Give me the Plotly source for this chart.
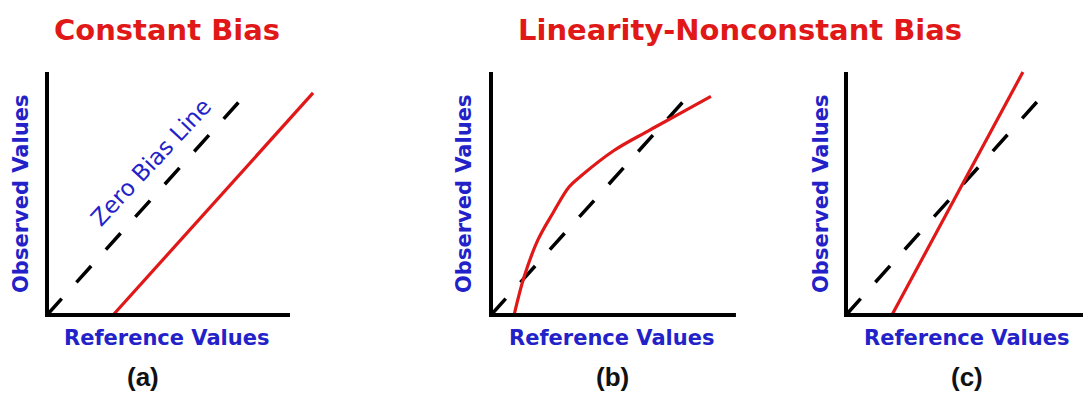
import plotly.graph_objects as go

W, H = 1083, 394
S = 243.0  # pixels per data unit (axis length)

# ---- data (in axis units: 0..1 = axis length) ----
# Panel (a) Constant bias
a_zero_x = [0.0, 0.815]
a_zero_y = [0.0, 0.905]
a_obs_x = [0.272, 1.095]
a_obs_y = [0.0, 0.914]
a_axis_x = [0.0, 0.0, 1.0]
a_axis_y = [1.0, 0.0, 0.0]

# Panel (b) nonlinear bias
b_zero_x = [0.0, 0.815]
b_zero_y = [0.0, 0.905]
b_obs_x = [0.095, 0.136, 0.193, 0.255, 0.321, 0.370, 0.506, 0.646, 0.782, 0.905]
b_obs_y = [0.0, 0.156, 0.309, 0.420, 0.527, 0.572, 0.677, 0.757, 0.832, 0.900]
b_axis_x = [0.0, 0.0, 1.008]
b_axis_y = [1.0, 0.0, 0.0]

# Panel (c) proportional bias
c_zero_x = [0.0, 0.819]
c_zero_y = [0.0, 0.914]
c_obs_x = [0.189, 0.728]
c_obs_y = [0.0, 1.0]
c_axis_x = [0.0, 0.0, 0.98]
c_axis_y = [1.0, 0.0, 0.0]

titles = ["Constant Bias", "Linearity-Nonconstant Bias"]
panel_labels = ["(a)", "(b)", "(c)"]
x_title = "Reference Values"
y_title = "Observed Values"
zero_label = "Zero Bias Line"

RED = "#e01818"
BLUE = "#2222c8"
BLACK = "#000000"

# layout geometry in pixels
origins = [47, 491, 846]
right_px = [335, 745, 1083]
oy, top_py, bot_py = 315, 62, 327


def px2x(px):
    return px / W


def py2y(py):
    return 1 - py / H


fig = go.Figure()
panels = [
    (a_axis_x, a_axis_y, a_zero_x, a_zero_y, a_obs_x, a_obs_y, "linear"),
    (b_axis_x, b_axis_y, b_zero_x, b_zero_y, b_obs_x, b_obs_y, "spline"),
    (c_axis_x, c_axis_y, c_zero_x, c_zero_y, c_obs_x, c_obs_y, "linear"),
]
for i, (axx, axy, zx, zy, ox_, oy_, shape) in enumerate(panels):
    xa = "x" if i == 0 else f"x{i+1}"
    ya = "y" if i == 0 else f"y{i+1}"
    fig.add_trace(go.Scatter(x=zx, y=zy, mode="lines", xaxis=xa, yaxis=ya,
                             line=dict(color=BLACK, width=3.5, dash="22px,22px"),
                             showlegend=False, hoverinfo="skip"))
    fig.add_trace(go.Scatter(x=ox_, y=oy_, mode="lines", xaxis=xa, yaxis=ya,
                             line=dict(color=RED, width=3.2, shape=shape, smoothing=1.0),
                             showlegend=False, hoverinfo="skip"))
    fig.add_trace(go.Scatter(x=axx, y=axy, mode="lines", xaxis=xa, yaxis=ya,
                             line=dict(color=BLACK, width=4),
                             showlegend=False, hoverinfo="skip"))

layout_axes = {}
for i in range(3):
    ox = origins[i]
    xk = "xaxis" if i == 0 else f"xaxis{i+1}"
    yk = "yaxis" if i == 0 else f"yaxis{i+1}"
    ya = "y" if i == 0 else f"y{i+1}"
    xa = "x" if i == 0 else f"x{i+1}"
    left_px = ox - 12
    layout_axes[xk] = dict(domain=[px2x(left_px), px2x(right_px[i])],
                           range=[(left_px - ox) / S, (right_px[i] - ox) / S],
                           visible=False, anchor=ya, fixedrange=True)
    layout_axes[yk] = dict(domain=[py2y(bot_py), py2y(top_py)],
                           range=[(oy - bot_py) / S, (oy - top_py) / S],
                           visible=False, anchor=xa, fixedrange=True)

fig.update_layout(width=W, height=H, margin=dict(l=0, r=0, t=0, b=0),
                  paper_bgcolor="white", plot_bgcolor="rgba(0,0,0,0)",
                  **layout_axes)

ann = []
title_font = dict(family="DejaVu Sans", size=29, color=RED, weight="bold")
ann.append(dict(text=titles[0], x=px2x(167), y=py2y(30), font=title_font))
ann.append(dict(text=titles[1], x=px2x(740), y=py2y(30), font=title_font))

lab_font = dict(family="DejaVu Sans", size=21, color=BLUE, weight="bold")
ytitle_x = [21, 464, 821]
xtitle_x = [167, 612, 967]
plabel_x = [143, 612, 967]
for i in range(3):
    ann.append(dict(text=y_title, x=px2x(ytitle_x[i]), y=py2y(194), textangle=-90, font=lab_font))
    ann.append(dict(text=x_title, x=px2x(xtitle_x[i]), y=py2y(338), font=lab_font))
    ann.append(dict(text=panel_labels[i], x=px2x(plabel_x[i]), y=py2y(377),
                    font=dict(family="Liberation Sans Narrow, Liberation Sans", size=26,
                              color="#111111", weight="bold")))

ann.append(dict(text=zero_label, x=px2x(151), y=py2y(162), textangle=-47,
                font=dict(family="DejaVu Sans", size=23, color=BLUE)))

for a in ann:
    a.update(xref="paper", yref="paper", showarrow=False, xanchor="center", yanchor="middle")
fig.update_layout(annotations=ann)

fig.write_html("out.html", config={"displayModeBar": False},
               post_script="document.body.style.margin='0';document.body.style.overflow='hidden';")
